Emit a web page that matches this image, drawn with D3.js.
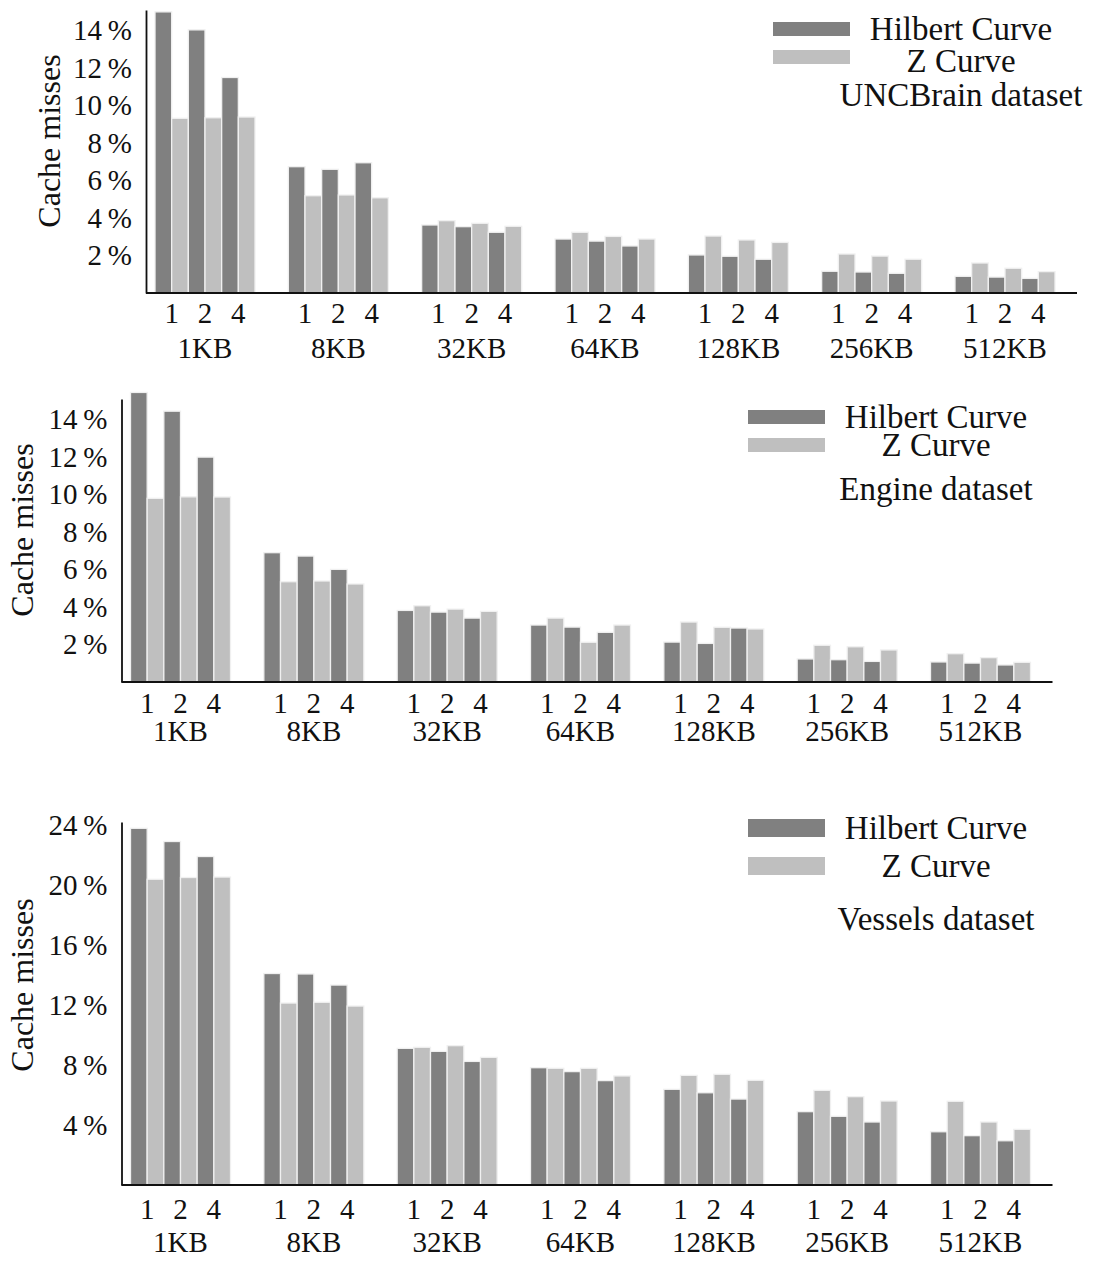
<!DOCTYPE html>
<html>
<head>
<meta charset="utf-8">
<script src="https://cdn.jsdelivr.net/npm/d3@7"></script>
<style>
  body { margin: 0; background: #fff; }
  text { font-family: "Liberation Serif", "DejaVu Serif", serif; fill: #111; }
</style>
</head>
<body>
<svg width="1093" height="1261"></svg>
<script>
// cache sizes and the 1/2/4 sub settings
const groups = ["1KB", "8KB", "32KB", "64KB", "128KB", "256KB", "512KB"];
const subLabels = ["1", "2", "4"];
const seriesNames = ["Hilbert Curve", "Z Curve"];

// values in %, order per group: 1, 2, 4
const uncHilbert = [15.0, 14.04, 11.5,  6.74, 6.6, 6.95,  3.63, 3.54, 3.24,  2.88, 2.77, 2.51,  2.03, 1.96, 1.8,  1.16, 1.12, 1.05,  0.89, 0.85, 0.78];
const uncZ       = [9.32, 9.35, 9.39,   5.19, 5.23, 5.08,  3.86, 3.72, 3.56,  3.24, 3.02, 2.88,  3.04, 2.83, 2.7,  2.08, 1.97, 1.8,   1.6, 1.32, 1.14];

const engineHilbert = [15.45, 14.45, 12.0,  6.9, 6.72, 6.01,  3.82, 3.73, 3.41,  3.04, 2.93, 2.65,  2.13, 2.06, 2.88,  1.23, 1.19, 1.1,  1.07, 1.01, 0.91];
const engineZ       = [9.8, 9.88, 9.87,     5.35, 5.39, 5.23,  4.07, 3.89, 3.77,  3.41, 2.12, 3.04,  3.2, 2.92, 2.83,   1.96, 1.88, 1.71, 1.51, 1.3, 1.05];

const vesselsHilbert = [23.78, 22.9, 21.9,  14.1, 14.07, 13.33,  9.11, 8.91, 8.24,  7.82, 7.56, 6.96,  6.38, 6.15, 5.73,  4.89, 4.58, 4.2,  3.55, 3.29, 2.95];
const vesselsZ       = [20.38, 20.5, 20.53, 12.13, 12.18, 11.93, 9.18, 9.29, 8.51,  7.78, 7.78, 7.27,  7.31, 7.38, 6.98,  6.31, 5.89, 5.6,  5.58, 4.2, 3.71];

const ticksSmall = [2, 4, 6, 8, 10, 12, 14];
const ticksLarge = [4, 8, 12, 16, 20, 24];

const colors = ["#808080", "#bfbfbf"];

let svg = d3.select("svg");

// layout of each panel
let panels = [
  {title: "UNCBrain dataset", hil: uncHilbert, z: uncZ, ticks: ticksSmall, ymax: 15.1,
   x0: 146, top: 10, base: 293, numY: 323, grpPad: 44, titleX: 60, titleY: 141,
   leg: {cx: 961, sx: 773, sw: 77, s1: 22, s2: 50, sh: 14, t1: 40, t2: 72, t3: 106}},
  {title: "Engine dataset", hil: engineHilbert, z: engineZ, ticks: ticksSmall, ymax: 15.1,
   x0: 121.5, top: 399, base: 682, numY: 713, grpPad: 38, titleX: 33, titleY: 530,
   leg: {cx: 936, sx: 748, sw: 77, s1: 410, s2: 438, sh: 14, t1: 428, t2: 456, t3: 500}},
  {title: "Vessels dataset", hil: vesselsHilbert, z: vesselsZ, ticks: ticksLarge, ymax: 24.2,
   x0: 121.5, top: 822, base: 1185, numY: 1219, grpPad: 46, titleX: 33, titleY: 985,
   leg: {cx: 936, sx: 748, sw: 77, s1: 819, s2: 857, sh: 18, t1: 839, t2: 877, t3: 930}}
];

panels.forEach(function(p){
  let g = svg.append("g");

  let x = d3.scaleBand().domain(groups)
    .range([p.x0 + 9, p.x0 + 909]).paddingInner(0.25).paddingOuter(0);
  let pair = d3.scaleBand().domain(subLabels).range([0, x.bandwidth()]);
  let y = d3.scaleLinear().domain([0, p.ymax]).range([p.base, p.top]);
  let bw = pair.bandwidth() / 2;

  // bars
  let rows = [];
  groups.forEach(function(grp, gi){
    subLabels.forEach(function(s, si){
      rows.push({grp: grp, sub: s, k: 0, v: p.hil[gi * 3 + si]});
      rows.push({grp: grp, sub: s, k: 1, v: p.z[gi * 3 + si]});
    });
  });

  g.selectAll(".bar")
    .data(rows)
    .enter().append("rect")
      .attr("class", "bar")
      .attr("x", function(d) { return x(d.grp) + pair(d.sub) + d.k * bw; })
      .attr("y", function(d) { return y(d.v); })
      .attr("width", bw)
      .attr("height", function(d) { return p.base - y(d.v); })
      .attr("fill", function(d) { return colors[d.k]; })
      .attr("stroke", "#f0f0f0")
      .attr("stroke-width", 1.3);

  // y axis
  let ya = g.append("g")
    .attr("transform", "translate(" + p.x0 + ",0)")
    .call(d3.axisLeft(y).tickValues(p.ticks).tickSize(0).tickSizeOuter(0).tickPadding(14)
      .tickFormat(function(d) { return d + "\u2009%"; }));
  ya.select(".domain").attr("stroke", "#111").attr("stroke-width", 1.8);
  ya.selectAll("text").attr("font-size", 29).attr("font-family", null).attr("fill", "#111");

  // x axis with group labels
  let xa = g.append("g")
    .attr("transform", "translate(0," + p.base + ")")
    .call(d3.axisBottom(x).tickSize(0).tickPadding(p.grpPad));
  xa.select(".domain").remove();
  xa.selectAll("text").attr("font-size", 29).attr("font-family", null).attr("fill", "#111");
  g.append("line")
    .attr("x1", p.x0).attr("x2", p.x0 + 931)
    .attr("y1", p.base).attr("y2", p.base)
    .attr("stroke", "#111").attr("stroke-width", 1.8);

  // 1 2 4 under each pair
  groups.forEach(function(grp){
    g.selectAll(null)
      .data(subLabels)
      .enter().append("text")
        .attr("x", function(s) { return x(grp) + pair(s) + pair.bandwidth() / 2; })
        .attr("y", p.numY)
        .attr("text-anchor", "middle")
        .attr("font-size", 29)
        .text(function(s) { return s; });
  });

  // y title
  g.append("text")
    .attr("transform", "translate(" + p.titleX + "," + p.titleY + ") rotate(-90)")
    .attr("text-anchor", "middle")
    .attr("font-size", 32)
    .text("Cache misses");

  // legend
  let L = p.leg;
  [L.s1, L.s2].forEach(function(sy, i){
    g.append("rect")
      .attr("x", L.sx).attr("y", sy)
      .attr("width", L.sw).attr("height", L.sh)
      .attr("fill", colors[i]);
  });
  [seriesNames[0], seriesNames[1], p.title].forEach(function(t, i){
    g.append("text")
      .attr("x", L.cx).attr("y", [L.t1, L.t2, L.t3][i])
      .attr("text-anchor", "middle")
      .attr("font-size", 33)
      .text(t);
  });
});
</script>
</body>
</html>
